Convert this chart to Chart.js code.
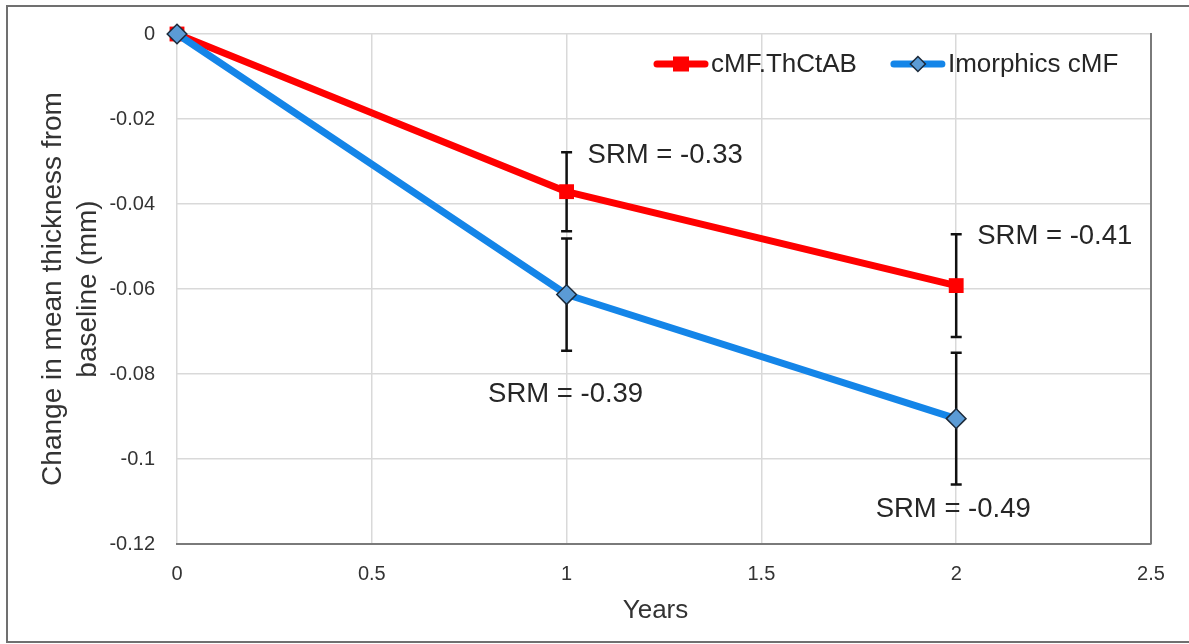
<!DOCTYPE html>
<html><head><meta charset="utf-8">
<script src="https://cdn.jsdelivr.net/npm/chart.js@4.4.0/dist/chart.umd.min.js"></script>
<style>html,body{margin:0;padding:0;background:#fff;}#wrap{width:1189px;height:644px;position:relative;}</style>
</head><body><div id="wrap"><canvas id="c" width="1189" height="644"></canvas></div>
<script>
// ---- data ----
const years = [0, 1, 2];
const cmfValues = [0, -0.0371, -0.0592];
const cmfErrors = [0, 0.0093, 0.0121];
const imorValues = [0, -0.0613, -0.0905];
const imorErrors = [0, 0.0132, 0.0155];
const seriesNames = ['cMF.ThCtAB', 'Imorphics cMF'];
const cmfSrm = [null, 'SRM = -0.33', 'SRM = -0.41'];
const imorSrm = [null, 'SRM = -0.39', 'SRM = -0.49'];
const xTickLabels = ['0', '0.5', '1', '1.5', '2', '2.5'];
const yTickLabels = ['0', '-0.02', '-0.04', '-0.06', '-0.08', '-0.1', '-0.12'];
const xTitle = 'Years';
const yTitle = ['Change in mean thickness from', 'baseline (mm)'];

const FONT = "'Liberation Sans', Arial, sans-serif";
const pick = (labels, v) => { const f = labels.find(l => Math.abs(parseFloat(l) - v) < 1e-7); return f === undefined ? '' : f; };

// label offsets (pixels) relative to the end of the error bar
const srmStyle = {
  0: { end: 'top', dx: 21, dy: [0, 3, 2], align: 'left' },
  1: { end: 'bottom', dx: [0, -1, -3], dy: [0, 44, 25], align: 'center' }
};

const framePlugin = {
  id: 'frame',
  beforeDraw(chart) {
    const c = chart.ctx;
    c.save();
    c.fillStyle = '#fff';
    c.fillRect(0, 0, chart.width, chart.height);
    c.strokeStyle = '#707070';
    c.lineWidth = 2;
    c.strokeRect(7, 6, 1200, 636);
    c.restore();
  },
  beforeDatasetsDraw(chart) {
    const c = chart.ctx, ys = chart.scales.y;
    const errs = [cmfErrors, imorErrors], vals = [cmfValues, imorValues];
    c.save();
    c.strokeStyle = '#111';
    c.lineWidth = 2.5;
    chart.data.datasets.forEach((ds, di) => {
      const meta = chart.getDatasetMeta(di);
      meta.data.forEach((pt, i) => {
        const e = errs[di][i];
        if (!e) return;
        const yt = ys.getPixelForValue(vals[di][i] + e), yb = ys.getPixelForValue(vals[di][i] - e);
        c.beginPath();
        c.moveTo(pt.x, yt); c.lineTo(pt.x, yb);
        c.moveTo(pt.x - 5.5, yt); c.lineTo(pt.x + 5.5, yt);
        c.moveTo(pt.x - 5.5, yb); c.lineTo(pt.x + 5.5, yb);
        c.stroke();
      });
    });
    c.restore();
  },
  afterDraw(chart) {
    const c = chart.ctx, a = chart.chartArea, ys = chart.scales.y;
    c.save();
    // right plot border
    c.strokeStyle = '#7a7a7a'; c.lineWidth = 2;
    c.beginPath(); c.moveTo(a.right, a.top - 1); c.lineTo(a.right, a.bottom); c.stroke();
    // x title
    c.fillStyle = '#333'; c.font = '26px ' + FONT; c.textAlign = 'center'; c.textBaseline = 'middle';
    c.fillText(xTitle, 655.5, 611);
    // SRM labels
    const errs = [cmfErrors, imorErrors], vals = [cmfValues, imorValues], srm = [cmfSrm, imorSrm];
    c.font = '27.5px ' + FONT; c.fillStyle = '#262626';
    [0, 1].forEach(di => {
      const meta = chart.getDatasetMeta(di), st = srmStyle[di];
      meta.data.forEach((pt, i) => {
        const t = srm[di][i]; if (!t) return;
        const v = st.end === 'top' ? vals[di][i] + errs[di][i] : vals[di][i] - errs[di][i];
        const dx = Array.isArray(st.dx) ? st.dx[i] : st.dx, dy = Array.isArray(st.dy) ? st.dy[i] : st.dy;
        c.textAlign = st.align;
        c.fillText(t, pt.x + dx, ys.getPixelForValue(v) + dy);
      });
    });
    // legend
    let x = 654; const ly = 64;
    c.font = '26px ' + FONT; c.textAlign = 'left'; c.textBaseline = 'middle';
    chart.data.datasets.forEach((ds, di) => {
      c.strokeStyle = ds.borderColor; c.lineWidth = 7; c.lineCap = 'round';
      c.beginPath(); c.moveTo(x + 3, ly); c.lineTo(x + 51, ly); c.stroke();
      const cx = x + 27;
      if (ds.pointStyle === 'rect') {
        c.fillStyle = ds.pointBackgroundColor; c.fillRect(cx - 8, ly - 7.5, 16, 15);
      } else {
        c.beginPath(); c.moveTo(cx, ly - 7.5); c.lineTo(cx + 7.5, ly); c.lineTo(cx, ly + 7.5); c.lineTo(cx - 7.5, ly); c.closePath();
        c.fillStyle = ds.pointBackgroundColor; c.fill();
        c.strokeStyle = ds.pointBorderColor; c.lineWidth = 1.5; c.stroke();
      }
      c.fillStyle = '#262626';
      c.fillText(ds.label, x + 57, ly + 1);
      x += 57 + c.measureText(ds.label).width + 34;
    });
    c.restore();
  }
};

new Chart(document.getElementById('c'), {
  type: 'line',
  data: {
    datasets: [
      {
        label: seriesNames[0],
        data: years.map((y, i) => ({ x: y, y: cmfValues[i] })),
        borderColor: '#ff0000', borderWidth: 7, borderCapStyle: 'round', borderJoinStyle: 'round',
        pointStyle: 'rect', pointRadius: 10.5, pointBackgroundColor: '#ff0000', pointBorderColor: '#ff0000', pointBorderWidth: 0,
        clip: false, order: 1
      },
      {
        label: seriesNames[1],
        data: years.map((y, i) => ({ x: y, y: imorValues[i] })),
        borderColor: '#1485e8', borderWidth: 7, borderCapStyle: 'round', borderJoinStyle: 'round',
        pointStyle: 'rectRot', pointRadius: 9.8, pointBackgroundColor: '#5b9bd5', pointBorderColor: '#1c2a3a', pointBorderWidth: 1.5,
        clip: false, order: 0
      }
    ]
  },
  options: {
    responsive: false, animation: false,
    layout: { padding: { left: 0, top: 34, right: 38, bottom: 0 } },
    plugins: { legend: { display: false }, tooltip: { enabled: false } },
    scales: {
      x: {
        type: 'linear', min: 0, max: 2.5,
        afterFit(s) { s.height = 100; },
        grid: { color: '#d9d9d9', lineWidth: 1.5, drawTicks: false },
        border: { display: true, color: '#7a7a7a', width: 2 },
        ticks: { stepSize: 0.5, padding: 18, color: '#333', font: { family: FONT, size: 20 }, maxRotation: 0,
          callback: v => pick(xTickLabels, v) },
        title: { display: false }
      },
      y: {
        type: 'linear', min: -0.12, max: 0,
        afterFit(s) { s.width = 177; },
        grid: { color: '#d9d9d9', lineWidth: 1.5, drawTicks: false },
        border: { display: false },
        ticks: { stepSize: 0.02, padding: 22, color: '#333', font: { family: FONT, size: 20 },
          callback: v => pick(yTickLabels, v) },
        title: { display: true, text: yTitle, color: '#333', padding: { top: 35.5, bottom: 0 },
          font: { family: FONT, size: 28, lineHeight: 1.25 } }
      }
    }
  },
  plugins: [framePlugin]
});
</script></body></html>
